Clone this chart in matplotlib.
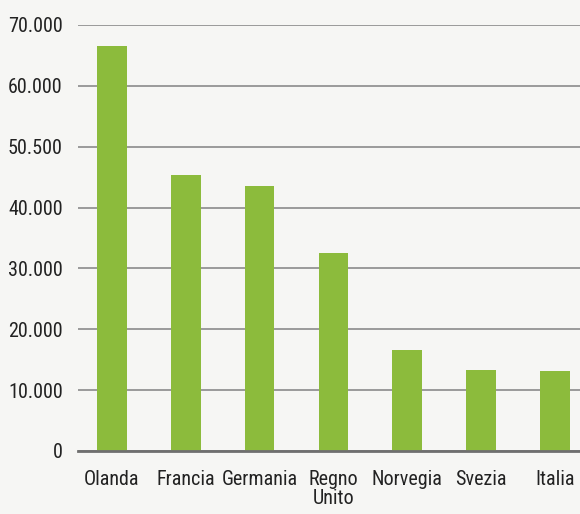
import matplotlib
matplotlib.use("Agg")
import matplotlib.pyplot as plt
from matplotlib import font_manager

countries = ["Olanda", "Francia", "Germania", "Regno\nUnito", "Norvegia", "Svezia", "Italia"]
values = [66500, 45300, 43500, 32500, 16600, 13300, 13100]
yticks = [0, 10000, 20000, 30000, 40000, 50000, 60000, 70000]
ytick_labels = ["0", "10.000", "20.000", "30.000", "40.000", "50.500", "60.000", "70.000"]

avail = {f.name for f in font_manager.fontManager.ttflist}
fam = "DejaVu Sans"
for cand in ["Roboto Condensed", "Archivo Narrow", "Liberation Sans Narrow", "Barlow Semi Condensed"]:
    if cand in avail:
        fam = cand
        break
plt.rcParams["font.family"] = [fam, "DejaVu Sans"]

bg = "#f6f6f4"
fig = plt.figure(figsize=(5.8, 5.14), dpi=100, facecolor=bg)
ax = fig.add_axes([0.1345, 0.1226, 0.8655, 0.8288], facecolor=bg)

x = list(range(len(countries)))
ax.bar(x, values, width=0.4, color="#8cbb3c", zorder=3)

ax.set_ylim(0, 70000)
ax.set_xlim(-0.46, 6.34)
ax.set_yticks(yticks)
ax.set_yticklabels(ytick_labels, fontsize=14.5, color="#222222")
ax.set_xticks(x)
ax.set_xticklabels(countries, fontsize=14.5, color="#222222", linespacing=0.95)
ax.tick_params(axis="both", length=0)
ax.tick_params(axis="y", pad=11)
ax.tick_params(axis="x", pad=14)

ax.grid(axis="y", color="#9a9a9a", linewidth=1.4, zorder=1)
ax.set_axisbelow(True)
for s in ["top", "right", "left"]:
    ax.spines[s].set_visible(False)
ax.spines["bottom"].set_color("#6f6f6f")
ax.spines["bottom"].set_linewidth(2)
ax.spines["bottom"].set_zorder(4)

fig.savefig("out.png", dpi=100, facecolor=bg)
